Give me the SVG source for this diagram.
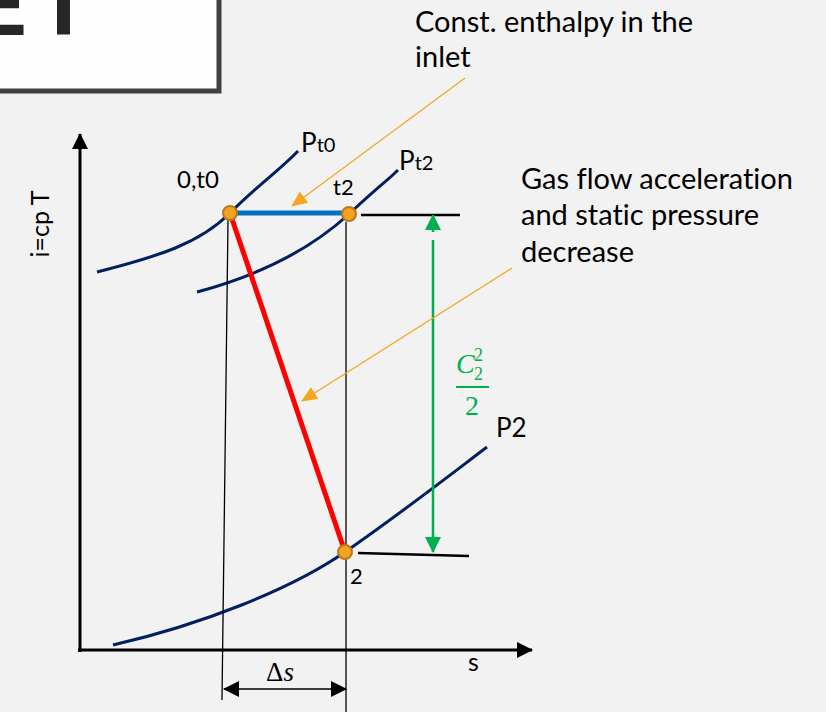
<svg xmlns="http://www.w3.org/2000/svg" width="826" height="712" viewBox="0 0 826 712">
<defs>
<style>
.t{font-family:"Gill Sans","Lato","Liberation Sans",sans-serif;fill:#000;font-variant-ligatures:none}
.curve{fill:none;stroke:#002060;stroke-width:3}
.thin{stroke:#000;stroke-width:1.3;fill:none}
.dot{fill:#f5a21f;stroke:#b7791f;stroke-width:2}
.callout{stroke:#f5a623;stroke-width:1.3;fill:none}
.m{font-family:"Liberation Serif",serif;fill:#00b050}
</style>
<marker id="oa" markerWidth="16" markerHeight="14" refX="15" refY="7" orient="auto" markerUnits="userSpaceOnUse"><path d="M0,0 L16,7 L0,14 Z" fill="#f5a623"/></marker>
<marker id="ba" markerWidth="16" markerHeight="16" refX="15" refY="8" orient="auto" markerUnits="userSpaceOnUse"><path d="M0,0 L16,8 L0,16 Z" fill="#000"/></marker>
<marker id="ga" markerWidth="16" markerHeight="16" refX="15" refY="8" orient="auto" markerUnits="userSpaceOnUse"><path d="M0,0 L16,8 L0,16 Z" fill="#00b050"/></marker>
</defs>
<rect width="826" height="712" fill="#f2f2f2"/>
<g id="title-box">
<rect x="-10" y="-10" width="229" height="101" fill="#fefefe" stroke="#404040" stroke-width="5"/>
<text x="-33" y="35" font-family="Liberation Sans, sans-serif" font-weight="bold" font-size="90" fill="#262626">E</text>
<text x="36" y="35" font-family="Liberation Sans, sans-serif" font-weight="bold" font-size="90" fill="#262626">T</text>
</g>
<g id="axes">
<line x1="80" y1="652" x2="80" y2="134" stroke="#000" stroke-width="3" marker-end="url(#ba)"/>
<line x1="78" y1="650" x2="532" y2="650" stroke="#000" stroke-width="3" marker-end="url(#ba)"/>
<text class="t" font-size="25" transform="translate(49,224) rotate(-90)" text-anchor="middle">i=cp T</text>
<text class="t" x="468" y="671" font-size="25">s</text>
</g>
<g id="isobars">
<path id="Pt0" class="curve" d="M97,272 C160,256 200,243 230,213 S280,170 298,151"/>
<path id="Pt2" class="curve" d="M197,292 C260,275 310,250 349,214 S385,183 398,170"/>
<path id="P2" class="curve" d="M113,645 C200,625 290,590 345,552 S450,475 487,447"/>
<text class="t" x="301" y="152" font-size="26">P<tspan font-size="20">t0</tspan></text>
<text class="t" x="399" y="170" font-size="26">P<tspan font-size="20">t2</tspan></text>
<text class="t" x="496" y="437" font-size="26">P2</text>
</g>
<g id="connectors">
<line class="thin" x1="228" y1="220" x2="222" y2="700"/>
<line class="thin" x1="346" y1="222" x2="346" y2="712"/>
<line x1="361" y1="215" x2="460" y2="215" stroke="#000" stroke-width="2.5"/>
<line x1="358" y1="553" x2="469" y2="556" stroke="#000" stroke-width="2.5"/>
<line x1="230" y1="213" x2="349" y2="213" stroke="#0070c0" stroke-width="5"/>
<line x1="230" y1="213" x2="345" y2="552" stroke="#ff0000" stroke-width="5"/>
<line x1="433" y1="232" x2="433" y2="215" stroke="#00b050" stroke-width="2.5" marker-end="url(#ga)"/>
<line x1="433" y1="240" x2="433" y2="552" stroke="#00b050" stroke-width="2.5" marker-end="url(#ga)"/>
<line x1="240" y1="689" x2="224" y2="689" stroke="#000" stroke-width="1.5" marker-end="url(#ba)"/>
<line x1="240" y1="689" x2="346" y2="689" stroke="#000" stroke-width="1.5" marker-end="url(#ba)"/>
<line class="callout" x1="465" y1="78" x2="292" y2="206" marker-end="url(#oa)"/>
<line class="callout" x1="512" y1="268" x2="302" y2="401" marker-end="url(#oa)"/>
</g>
<g id="state-0t0">
<circle class="dot" cx="230" cy="213" r="7"/>
<text class="t" x="177" y="188" font-size="24">0,t0</text>
</g>
<g id="state-t2">
<circle class="dot" cx="349" cy="214" r="7"/>
<text class="t" x="333" y="195" font-size="22">t2</text>
</g>
<g id="state-2">
<circle class="dot" cx="345" cy="552" r="7"/>
<text class="t" x="350" y="584" font-size="22">2</text>
</g>
<g id="kinetic-label">
<text class="m" x="456" y="373" font-style="italic" font-size="28">C</text>
<text class="m" x="474" y="361" font-size="18">2</text>
<text class="m" x="474" y="380" font-size="18">2</text>
<line x1="456" y1="387" x2="489" y2="387" stroke="#00b050" stroke-width="2"/>
<text class="m" x="472" y="415" font-size="28" text-anchor="middle">2</text>
</g>
<g id="delta-s">
<text x="266" y="681" font-family="Liberation Serif, serif" font-size="27">Δ<tspan font-style="italic">s</tspan></text>
</g>
<g id="callout-1">
<text class="t" x="415" y="32" font-size="29">Const. enthalpy in the</text>
<text class="t" x="415" y="67" font-size="29">inlet</text>
</g>
<g id="callout-2">
<text class="t" x="521" y="189" font-size="29">Gas flow acceleration</text>
<text class="t" x="521" y="225" font-size="29">and static pressure</text>
<text class="t" x="521" y="262" font-size="29">decrease</text>
</g>
</svg>
